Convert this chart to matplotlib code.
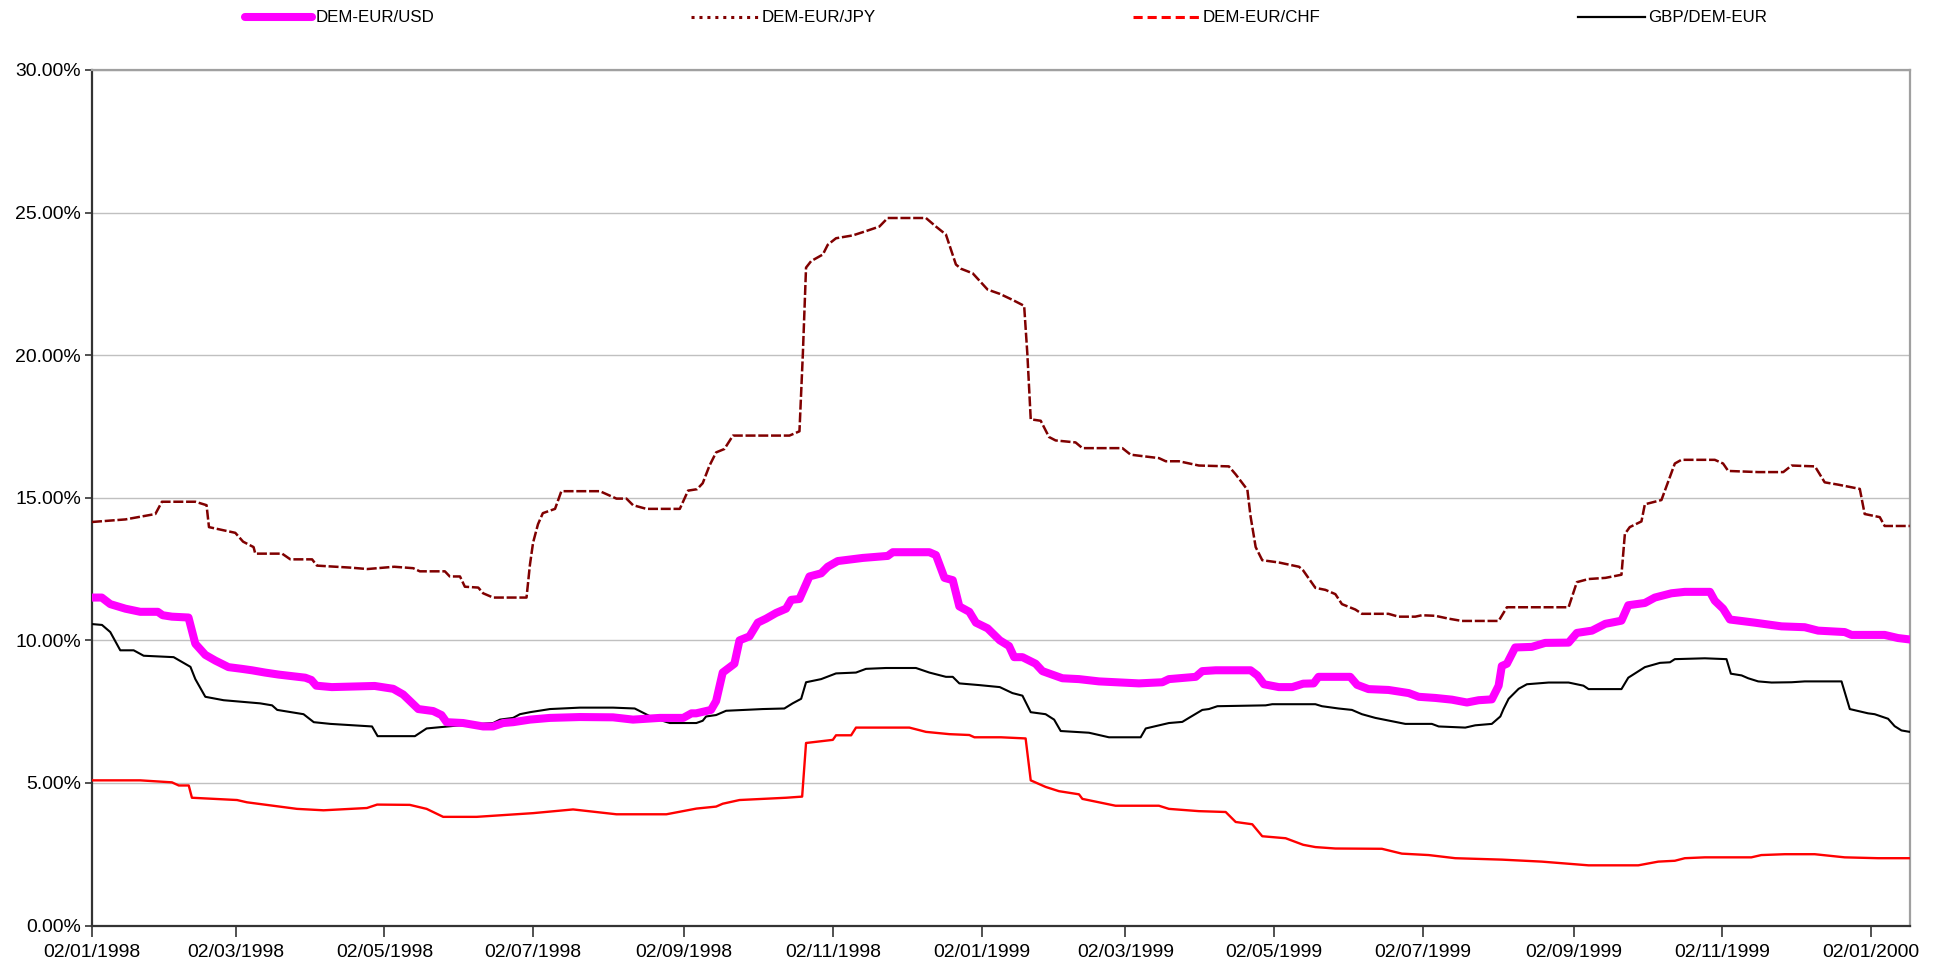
import matplotlib
matplotlib.use("Agg")
import matplotlib.pyplot as plt
from matplotlib.lines import Line2D
from matplotlib import font_manager
import pandas as pd

# ---------------- data (days since 02/01/1998, volatility in %) ----------------
start_date = "1998-01-02"

usd_days = [0, 4, 7.5, 13.7, 19.8, 27, 29, 32.8, 39.6, 42.4, 46.5, 50.6, 56, 61.5, 65.6, 71, 76.5, 87.5, 90, 92,
            98.4, 116, 123.6, 127.7, 133.9, 140, 143.4, 145.5, 152.3, 160.5, 164.6, 168.7, 172.8, 179.7, 187.9,
            200.2, 213.8, 222, 233, 242.6, 246, 247.9, 254, 256.1, 258.8, 263.6, 265.7, 269.8, 273.2, 276.6,
            280.7, 284.8, 286.9, 290.3, 294.4, 299.2, 301.9, 306, 316.3, 326.5, 328.6, 343.6, 346.3, 349.8,
            353.2, 355.9, 360, 362.7, 367.5, 372.5, 376.3, 378.4, 381.8, 387.2, 390, 398.2, 405, 413.2, 429.6,
            439.2, 441.9, 452.9, 455.6, 461.1, 475.4, 478.2, 480.9, 487, 492.5, 497, 501.3, 503.3, 516.3, 519.1,
            523.8, 532, 540.3, 544.4, 551.2, 558, 564.2, 569, 574.4, 577.2, 578.5, 580.6, 584, 590.8, 596.3,
            605.9, 609.3, 615.5, 621, 623.5, 627.6, 630.4, 637.2, 641.3, 648.1, 653.6, 663.9, 665.9, 669.3,
            672.1, 682.3, 693.3, 702.8, 708.3, 719.2, 722, 735.6, 741.1, 745.9]
usd_vals = [11.50, 11.50, 11.27, 11.11, 11.00, 11.00, 10.88, 10.83, 10.80, 9.88, 9.49, 9.29, 9.06, 9.00, 8.95,
            8.87, 8.80, 8.69, 8.61, 8.41, 8.36, 8.40, 8.30, 8.10, 7.59, 7.52, 7.38, 7.13, 7.10, 6.98, 6.98, 7.10,
            7.13, 7.22, 7.28, 7.31, 7.30, 7.22, 7.28, 7.28, 7.44, 7.44, 7.56, 7.87, 8.87, 9.18, 10.00, 10.14,
            10.62, 10.76, 10.96, 11.11, 11.42, 11.45, 12.24, 12.35, 12.58, 12.78, 12.89, 12.96, 13.09, 13.09,
            12.99, 12.19, 12.11, 11.19, 11.00, 10.62, 10.42, 10.00, 9.80, 9.41, 9.41, 9.18, 8.92, 8.67, 8.64,
            8.56, 8.49, 8.53, 8.64, 8.72, 8.92, 8.95, 8.95, 8.77, 8.46, 8.36, 8.36, 8.48, 8.49, 8.72, 8.72,
            8.44, 8.29, 8.26, 8.15, 8.02, 7.98, 7.92, 7.82, 7.90, 7.93, 8.41, 9.10, 9.18, 9.75, 9.77, 9.91,
            9.92, 10.26, 10.34, 10.58, 10.62, 10.69, 11.23, 11.31, 11.50, 11.65, 11.70, 11.70, 11.39, 11.11,
            10.73, 10.62, 10.49, 10.46, 10.34, 10.29, 10.19, 10.19, 10.08, 10.03]

jpy_days = [0, 13.7, 26, 28.7, 42.4, 47, 48, 58.8, 62, 66.3, 67, 78, 81.4, 90.3, 92.3, 106, 113, 124, 131.8,
            134.5, 144.8, 146.8, 151, 153, 158.5, 160.5, 164.6, 178.3, 179.7, 181, 183, 185, 190, 192.6, 208.4,
            215.2, 219.3, 222, 227.5, 241.2, 244.6, 248.3, 250.6, 253.4, 256.1, 259.5, 263, 286.2, 290.3, 291.7,
            293, 295.1, 299.9, 301.9, 305.3, 312.2, 317.6, 323.1, 326.5, 342.2, 346.3, 350.4, 354.5, 356.6,
            361.4, 367.5, 372.5, 377.7, 382.5, 383.8, 385.2, 389.3, 392.7, 395.4, 403.6, 406.4, 422.8, 426.2,
            437.8, 440.6, 446, 454.2, 466.5, 469.3, 474.1, 475.4, 477.5, 480.2, 487, 495.3, 497, 502, 506.1,
            510.2, 512.9, 518.4, 521.1, 532, 536.1, 543, 545.7, 551.2, 556.7, 562.1, 577.2, 580.6, 605.9,
            609.3, 614.1, 621, 627.6, 629, 631, 635.8, 637.2, 644, 649.5, 652.2, 665.9, 669.3, 671.4, 683.7,
            694, 697.4, 707, 711, 716.5, 725.4, 727.4, 733.6, 735.6, 745.9]
jpy_vals = [14.15, 14.24, 14.43, 14.86, 14.86, 14.74, 13.97, 13.77, 13.46, 13.27, 13.04, 13.04, 12.84, 12.84,
            12.62, 12.55, 12.50, 12.58, 12.53, 12.42, 12.42, 12.24, 12.24, 11.88, 11.85, 11.65, 11.50, 11.50,
            12.65, 13.43, 14.07, 14.46, 14.61, 15.23, 15.23, 14.97, 14.97, 14.74, 14.61, 14.61, 15.25, 15.30,
            15.51, 16.13, 16.59, 16.71, 17.18, 17.18, 17.33, 20.06, 23.07, 23.30, 23.53, 23.87, 24.10, 24.20,
            24.35, 24.51, 24.81, 24.81, 24.51, 24.23, 23.18, 23.03, 22.87, 22.30, 22.15, 21.94, 21.73, 20.06,
            17.75, 17.70, 17.13, 17.01, 16.94, 16.74, 16.74, 16.51, 16.39, 16.28, 16.28, 16.13, 16.10, 15.82,
            15.28, 14.35, 13.27, 12.81, 12.73, 12.58, 12.45, 11.84, 11.77, 11.62, 11.27, 11.08, 10.93, 10.93,
            10.83, 10.83, 10.88, 10.86, 10.76, 10.68, 10.68, 11.16, 11.16, 12.04, 12.15, 12.19, 12.30, 13.73,
            13.97, 14.17, 14.77, 14.92, 16.20, 16.33, 16.33, 16.20, 15.94, 15.90, 15.90, 16.13, 16.10, 15.54,
            15.46, 15.31, 14.43, 14.32, 14.01, 14.01]

chf_days = [0, 19.8, 32.8, 35.6, 39.7, 41, 59.5, 63.6, 84.1, 95, 112.8, 117, 130.4, 137.3, 144.1, 157.8, 181,
            197.4, 215.2, 235.7, 248, 256.1, 258.8, 265.7, 284.8, 291.4, 293, 304, 305.3, 311.5, 313.5, 335.4,
            342.2, 351.8, 360, 362.1, 373, 383.1, 385.2, 391.3, 396.8, 405, 406.4, 420, 437.8, 441.9, 454.2,
            465.2, 469.3, 476.1, 480.2, 489.8, 497, 502, 510.2, 529.3, 537.5, 548.5, 559.4, 578.5, 594.9, 614.1,
            634.5, 642.7, 649.5, 653.6, 661.8, 680.9, 685, 694.6, 706.9, 719.2, 732.9, 745.9]
chf_vals = [5.09, 5.09, 5.02, 4.91, 4.91, 4.48, 4.40, 4.32, 4.09, 4.04, 4.12, 4.24, 4.23, 4.09, 3.81, 3.81, 3.94,
            4.07, 3.90, 3.90, 4.10, 4.17, 4.27, 4.40, 4.48, 4.52, 6.40, 6.51, 6.67, 6.67, 6.94, 6.94, 6.79, 6.71,
            6.68, 6.60, 6.60, 6.56, 5.09, 4.86, 4.71, 4.60, 4.44, 4.20, 4.20, 4.09, 4.01, 3.98, 3.63, 3.55, 3.13,
            3.06, 2.83, 2.75, 2.70, 2.69, 2.52, 2.47, 2.36, 2.31, 2.24, 2.11, 2.11, 2.24, 2.27, 2.36, 2.39, 2.39,
            2.47, 2.50, 2.50, 2.39, 2.36, 2.36]

gbp_days = [0, 4.1, 7.5, 11.6, 17.1, 21.2, 33.5, 40.4, 42.4, 46.5, 54, 69, 73.9, 76, 86.8, 91, 97.8, 114.9, 117.2,
            132.5, 137.3, 151, 164.6, 167.4, 172.8, 175.6, 179.7, 187.9, 200.2, 213.8, 222.7, 230.3, 237.1, 248,
            250.6, 252, 256.1, 260.2, 275.2, 284.1, 287.5, 291, 293, 299.2, 305.3, 313.5, 317.6, 325.8, 338.1,
            343.6, 350.4, 353.2, 355.9, 364.1, 372.5, 377.7, 381.8, 385.2, 391.3, 394.8, 397.5, 409.1, 417.3,
            430.3, 432.4, 441.9, 447.4, 450.1, 455.6, 458.3, 461.8, 481.6, 484.3, 502, 504.7, 511.5, 517, 521.1,
            526.6, 538.9, 549.8, 552.6, 563.5, 567.6, 574.4, 577.9, 579.2, 581.3, 585.4, 588.8, 597.7, 605.9,
            612, 614.1, 627.6, 630.4, 637.2, 643.4, 647.5, 649.5, 661.8, 670.7, 672.5, 676.9, 679.6, 683.7,
            689.2, 697.4, 702.8, 717.9, 721.3, 728.8, 731.5, 737, 739.7, 742.5, 745.9]
gbp_vals = [10.57, 10.54, 10.29, 9.65, 9.65, 9.46, 9.41, 9.07, 8.64, 8.02, 7.90, 7.79, 7.72, 7.56, 7.41, 7.13,
            7.07, 6.98, 6.64, 6.64, 6.91, 7.02, 7.10, 7.22, 7.28, 7.41, 7.48, 7.59, 7.64, 7.64, 7.61, 7.28, 7.10,
            7.10, 7.18, 7.33, 7.38, 7.53, 7.59, 7.61, 7.79, 7.95, 8.53, 8.64, 8.84, 8.87, 9.00, 9.03, 9.03, 8.87,
            8.72, 8.72, 8.49, 8.43, 8.36, 8.15, 8.06, 7.48, 7.41, 7.22, 6.82, 6.76, 6.60, 6.60, 6.91, 7.10, 7.14,
            7.28, 7.56, 7.59, 7.69, 7.72, 7.76, 7.76, 7.69, 7.61, 7.56, 7.41, 7.28, 7.07, 7.07, 6.98, 6.94, 7.02,
            7.07, 7.33, 7.59, 7.95, 8.30, 8.46, 8.52, 8.52, 8.41, 8.29, 8.29, 8.69, 9.06, 9.21, 9.23, 9.34, 9.37,
            9.34, 8.83, 8.77, 8.67, 8.56, 8.52, 8.53, 8.56, 8.56, 7.59, 7.44, 7.41, 7.25, 6.99, 6.84, 6.79]

series_names = ["DEM-EUR/USD", "DEM-EUR/JPY", "DEM-EUR/CHF", "GBP/DEM-EUR"]
tick_dates = ["1998-01-02", "1998-03-02", "1998-05-02", "1998-07-02", "1998-09-02", "1998-11-02",
              "1999-01-02", "1999-03-02", "1999-05-02", "1999-07-02", "1999-09-02", "1999-11-02", "2000-01-02"]
y_ticks = [0, 5, 10, 15, 20, 25, 30]
x_end_day = 746

# ---------------- fonts ----------------
available = {f.name for f in font_manager.fontManager.ttflist}
if "Liberation Sans Narrow" in available:
    fam = "Liberation Sans Narrow"
    scale = 1.0
else:
    fam = "Liberation Sans"
    scale = 0.84
plt.rcParams["font.family"] = [fam, "DejaVu Sans"]
tick_fs = 16.6 * scale
leg_fs = 14.5 * scale

# ---------------- figure ----------------
W, H = 1935, 966
fig = plt.figure(figsize=(W / 100, H / 100), dpi=100)
ax = fig.add_axes([92 / W, 1 - 925.5 / H, (1910 - 92) / W, (925.5 - 70) / H])

base = pd.Timestamp(start_date)
def to_dates(days):
    return base + pd.to_timedelta(days, unit="D")

ax.plot(to_dates(chf_days), chf_vals, color="#FF0000", lw=1.7, solid_joinstyle="round", zorder=3)
ax.plot(to_dates(jpy_days), jpy_vals, color="#800000", lw=1.8, dashes=(4.0, 1.1), zorder=3)
ax.plot(to_dates(gbp_days), gbp_vals, color="#000000", lw=1.5, solid_joinstyle="round", zorder=4)
ax.plot(to_dates(usd_days), usd_vals, color="#FF00FF", lw=5.8, solid_joinstyle="round",
        solid_capstyle="round", zorder=5)

ax.set_xlim(base, base + pd.Timedelta(days=x_end_day))
ax.set_ylim(0, 30)
ax.set_yticks(y_ticks)
ax.set_yticklabels([f"{v:.2f}%" for v in y_ticks], fontsize=tick_fs)
tks = pd.to_datetime(tick_dates)
ax.set_xticks(tks)
ax.set_xticklabels([t.strftime("%d/%m/%Y") for t in tks], fontsize=tick_fs)

ax.grid(axis="y", color="#C0C0C0", lw=1.0)
ax.set_axisbelow(True)
ax.tick_params(axis="y", length=5, width=1.2, color="#333333", pad=3)
ax.tick_params(axis="x", length=8, width=1.2, color="#333333", pad=5)
for s in ["left", "bottom"]:
    ax.spines[s].set_color("#333333")
    ax.spines[s].set_linewidth(1.6)
for s in ["top", "right"]:
    ax.spines[s].set_color("#A0A0A0")
    ax.spines[s].set_linewidth(1.6)

handles = [
    Line2D([], [], color="#FF00FF", lw=5.8, solid_capstyle="round"),
    Line2D([], [], color="#800000", lw=2.2, dashes=(1.0, 1.6)),
    Line2D([], [], color="#FF0000", lw=2.2, dashes=(3.0, 1.6)),
    Line2D([], [], color="#000000", lw=1.6),
]
fig.legend(handles, series_names, loc="center", bbox_to_anchor=(1006 / W, 1 - 18 / H), ncol=4,
           frameon=False, fontsize=leg_fs, handlelength=3.95, handletextpad=0.2, columnspacing=15.2)

fig.savefig("out.png", dpi=100)
